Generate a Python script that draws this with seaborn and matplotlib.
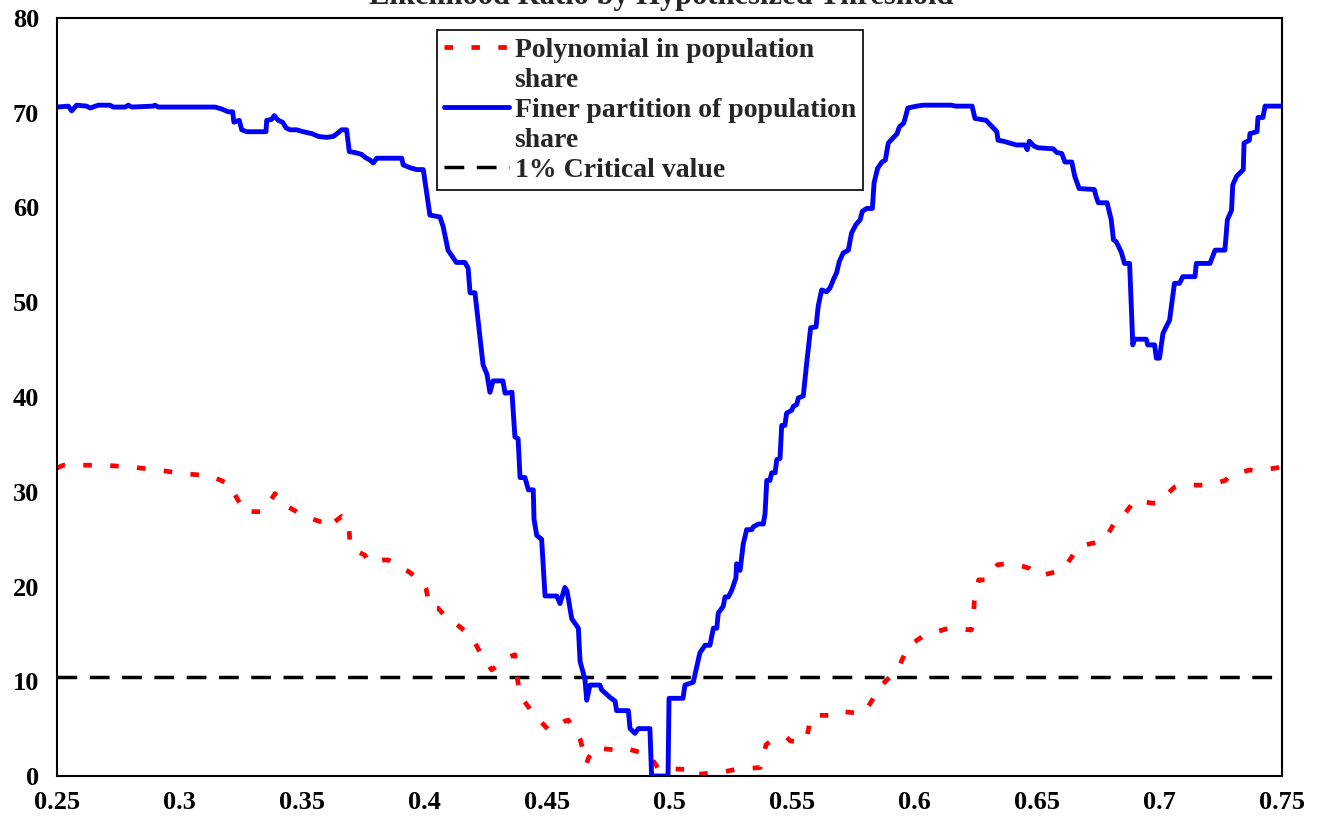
import matplotlib
matplotlib.use("Agg")
import matplotlib.pyplot as plt
import seaborn as sns
import pandas as pd
from matplotlib.lines import Line2D

# Limiar hipotetico (participacao populacional)
azul_x = [0.2500, 0.2546, 0.2560, 0.2580, 0.2621, 0.2635, 0.2669, 0.2716, 0.2730, 0.2778,
          0.2791, 0.2805, 0.2893, 0.2900, 0.2913, 0.3145, 0.3172, 0.3199, 0.3217, 0.3222,
          0.3244, 0.3254, 0.3274, 0.3353, 0.3356, 0.3376, 0.3387, 0.3403, 0.3421, 0.3435,
          0.3451, 0.3478, 0.3505, 0.3540, 0.3567, 0.3601, 0.3628, 0.3648, 0.3662, 0.3682,
          0.3693, 0.3716, 0.3744, 0.3757, 0.3778, 0.3791, 0.3805, 0.3907, 0.3913, 0.3941,
          0.3968, 0.3995, 0.4022, 0.4063, 0.4076, 0.4096, 0.4130, 0.4165, 0.4178, 0.4186,
          0.4206, 0.4239, 0.4255, 0.4267, 0.4280, 0.4320, 0.4329, 0.4357, 0.4369, 0.4382,
          0.4390, 0.4410, 0.4424, 0.4444, 0.4447, 0.4458, 0.4478, 0.4492, 0.4540, 0.4553,
          0.4573, 0.4582, 0.4601, 0.4628, 0.4635, 0.4655, 0.4662, 0.4676, 0.4716, 0.4723,
          0.4757, 0.4778, 0.4784, 0.4832, 0.4839, 0.4859, 0.4873, 0.4920, 0.4927, 0.4994,
          0.4998, 0.5055, 0.5063, 0.5097, 0.5124, 0.5145, 0.5165, 0.5179, 0.5193, 0.5199,
          0.5219, 0.5227, 0.5240, 0.5254, 0.5271, 0.5274, 0.5288, 0.5301, 0.5315, 0.5336,
          0.5342, 0.5363, 0.5383, 0.5390, 0.5397, 0.5410, 0.5417, 0.5431, 0.5438, 0.5451,
          0.5458, 0.5471, 0.5478, 0.5499, 0.5505, 0.5519, 0.5526, 0.5546, 0.5560, 0.5576,
          0.5598, 0.5607, 0.5621, 0.5641, 0.5655, 0.5669, 0.5682, 0.5693, 0.5709, 0.5730,
          0.5743, 0.5761, 0.5778, 0.5787, 0.5805, 0.5828, 0.5835, 0.5849, 0.5867, 0.5881,
          0.5893, 0.5911, 0.5929, 0.5938, 0.5956, 0.5973, 0.6009, 0.6035, 0.6150, 0.6168,
          0.6235, 0.6247, 0.6292, 0.6318, 0.6336, 0.6341, 0.6362, 0.6389, 0.6416, 0.6451,
          0.6460, 0.6469, 0.6487, 0.6504, 0.6566, 0.6581, 0.6601, 0.6614, 0.6642, 0.6654,
          0.6672, 0.6734, 0.6741, 0.6750, 0.6786, 0.6803, 0.6812, 0.6823, 0.6844, 0.6857,
          0.6878, 0.6891, 0.6898, 0.6946, 0.6952, 0.6980, 0.6987, 0.7000, 0.7014, 0.7027,
          0.7041, 0.7061, 0.7082, 0.7095, 0.7145, 0.7150, 0.7206, 0.7227, 0.7267, 0.7277,
          0.7294, 0.7299, 0.7315, 0.7342, 0.7345, 0.7367, 0.7369, 0.7398, 0.7402, 0.7422,
          0.7431, 0.7500]
azul_y = [70.6, 70.7, 70.2, 70.8, 70.7, 70.5, 70.8, 70.8, 70.6, 70.6,
          70.8, 70.6, 70.7, 70.8, 70.6, 70.6, 70.4, 70.1, 70.1, 69.0,
          69.2, 68.2, 68.0, 68.0, 69.2, 69.3, 69.7, 69.2, 69.0, 68.4,
          68.2, 68.2, 68.0, 67.8, 67.5, 67.4, 67.5, 67.9, 68.2, 68.2,
          65.9, 65.8, 65.6, 65.3, 65.0, 64.7, 65.2, 65.2, 64.5, 64.2,
          64.0, 64.0, 59.2, 59.0, 58.0, 55.5, 54.2, 54.2, 53.6, 51.0,
          51.0, 43.4, 42.4, 40.5, 41.7, 41.7, 40.4, 40.5, 35.8, 35.6,
          31.5, 31.5, 30.2, 30.2, 27.1, 25.4, 25.0, 19.0, 19.0, 18.2,
          19.9, 19.5, 16.6, 15.6, 12.1, 10.2, 8.0, 9.6, 9.6, 9.1,
          8.3, 7.9, 6.9, 6.9, 5.0, 4.5, 5.0, 5.0, 0.0, 0.0,
          8.2, 8.2, 9.6, 9.9, 13.0, 13.8, 13.8, 15.6, 15.6, 17.2,
          17.9, 18.9, 18.9, 19.6, 20.9, 22.4, 21.7, 24.5, 26.0, 26.0,
          26.3, 26.6, 26.6, 27.7, 31.2, 31.2, 32.0, 32.0, 33.4, 33.5,
          37.0, 37.0, 38.3, 38.6, 39.0, 39.2, 39.9, 40.1, 43.6, 47.3,
          47.4, 49.6, 51.3, 51.1, 51.5, 52.4, 53.1, 54.3, 55.2, 55.5,
          57.3, 58.2, 58.7, 59.6, 59.9, 59.9, 62.6, 64.1, 64.8, 65.0,
          66.8, 67.3, 67.8, 68.5, 68.9, 70.5, 70.7, 70.8, 70.8, 70.7,
          70.7, 69.4, 69.2, 68.5, 68.0, 67.1, 67.0, 66.8, 66.6, 66.6,
          66.1, 67.0, 66.5, 66.3, 66.2, 65.8, 65.7, 64.8, 64.8, 63.3,
          62.0, 61.9, 61.2, 60.5, 60.5, 58.7, 56.6, 56.4, 55.3, 54.1,
          54.1, 45.5, 46.1, 46.1, 45.5, 45.5, 44.1, 44.1, 46.7, 47.4,
          48.1, 52.0, 52.0, 52.7, 52.7, 54.1, 54.1, 55.5, 55.5, 58.7,
          59.7, 62.4, 63.3, 64.0, 66.8, 67.1, 67.8, 68.0, 69.5, 69.5,
          70.7, 70.7]

vermelho_x = [0.2500, 0.2526, 0.2594, 0.2696, 0.2805, 0.2913, 0.3016, 0.3124, 0.3213, 0.3220,
              0.3254, 0.3260, 0.3342, 0.3349, 0.3390, 0.3410, 0.3478, 0.3499, 0.3580, 0.3601,
              0.3662, 0.3689, 0.3696, 0.3703, 0.3757, 0.3771, 0.3832, 0.3852, 0.3913, 0.3934,
              0.3995, 0.4006, 0.4022, 0.4056, 0.4097, 0.4118, 0.4193, 0.4240, 0.4254, 0.4274,
              0.4349, 0.4369, 0.4376, 0.4390, 0.4438, 0.4451, 0.4505, 0.4519, 0.4573, 0.4587,
              0.4635, 0.4662, 0.4669, 0.4703, 0.4723, 0.4798, 0.4825, 0.4893, 0.4913, 0.4954,
              0.4974, 0.5063, 0.5077, 0.5166, 0.5193, 0.5271, 0.5371, 0.5394, 0.5409, 0.5478,
              0.5493, 0.5547, 0.5562, 0.5578, 0.5601, 0.5678, 0.5701, 0.5786, 0.5801, 0.5839,
              0.5847, 0.5909, 0.5931, 0.5962, 0.5970, 0.6031, 0.6062, 0.6139, 0.6170, 0.6231,
              0.6239, 0.6244, 0.6262, 0.6293, 0.6339, 0.6378, 0.6447, 0.6470, 0.6500, 0.6523,
              0.6600, 0.6623, 0.6662, 0.6677, 0.6754, 0.6777, 0.6816, 0.6839, 0.6885, 0.6900,
              0.6969, 0.6992, 0.7062, 0.7085, 0.7200, 0.7269, 0.7292, 0.7369, 0.7392, 0.7500]
vermelho_y = [32.5, 32.8, 32.8, 32.8, 32.6, 32.3, 31.9, 31.7, 30.7, 30.0,
              28.4, 27.9, 27.9, 28.2, 29.8, 28.9, 27.9, 27.5, 26.8, 26.2,
              27.4, 27.0, 24.7, 24.0, 23.3, 22.6, 22.8, 22.8, 21.9, 21.6,
              20.4, 19.8, 17.8, 17.7, 16.5, 16.3, 14.7, 12.4, 12.0, 11.2,
              12.6, 12.8, 10.8, 8.5, 6.8, 6.4, 4.9, 4.9, 5.8, 5.9,
              3.9, 1.3, 1.9, 3.1, 2.9, 2.7, 2.9, 2.4, 2.4, 0.8,
              0.8, 0.7, 0.1, 0.3, 0.3, 0.7, 0.9, 3.3, 3.6, 4.1,
              3.7, 3.6, 4.3, 6.3, 6.4, 6.4, 6.8, 6.6, 6.9, 8.5,
              9.1, 10.7, 11.2, 13.0, 13.6, 14.7, 15.0, 15.6, 15.6, 15.4,
              16.1, 18.4, 20.7, 20.7, 22.3, 22.4, 22.1, 21.9, 21.2, 21.2,
              21.7, 22.4, 23.9, 24.3, 24.7, 25.0, 26.7, 27.0, 28.6, 29.1,
              28.8, 28.8, 30.5, 30.7, 30.7, 31.2, 31.8, 32.3, 32.2, 32.6]

# Valor critico a 1%
critico_x = [0.25, 0.75]
critico_y = [10.5, 10.5]

rotulos = ["Polynomial in population", "share",
           "Finer partition of population", "share",
           "1% Critical value"]
titulo = "Likelihood Ratio by Hypothesized Threshold"

x_ticks = [0.25, 0.3, 0.35, 0.4, 0.45, 0.5, 0.55, 0.6, 0.65, 0.7, 0.75]
x_ticklabels = ["0.25", "0.3", "0.35", "0.4", "0.45", "0.5", "0.55", "0.6", "0.65", "0.7", "0.75"]
y_ticks = [0, 10, 20, 30, 40, 50, 60, 70, 80]

sns.set_style("white")
plt.rcParams["font.family"] = ["Liberation Serif", "DejaVu Serif"]
plt.rcParams["font.weight"] = "bold"

fig = plt.figure(figsize=(13.22, 8.31), dpi=100)
ax = fig.add_axes([57 / 1322, 1 - 776 / 831, 1225 / 1322, 758 / 831])

df_verm = pd.DataFrame({"x": vermelho_x, "y": vermelho_y})
df_azul = pd.DataFrame({"x": azul_x, "y": azul_y})
df_crit = pd.DataFrame({"x": critico_x, "y": critico_y})

estilo_verm = (0, (1.8, 3.9))
estilo_crit = (0, (5.7, 3.6))

sns.lineplot(data=df_crit, x="x", y="y", ax=ax, color="black", linewidth=2.5,
             linestyle=estilo_crit, estimator=None, sort=False)
sns.lineplot(data=df_verm, x="x", y="y", ax=ax, color="#FF0000", linewidth=3.4,
             linestyle=estilo_verm, estimator=None, sort=False)
sns.lineplot(data=df_azul, x="x", y="y", ax=ax, color="#0000FF", linewidth=3.5,
             estimator=None, sort=False)

ax.set_xlim(0.25, 0.75)
ax.set_ylim(0, 80)
ax.set_xticks(x_ticks)
ax.set_xticklabels(x_ticklabels)
ax.set_yticks(y_ticks)
ax.set_xlabel("")
ax.set_ylabel("")
ax.tick_params(axis="x", direction="out", length=6, width=1.3, pad=5, labelsize=19, colors="black")
ax.tick_params(axis="y", direction="out", length=4, width=1.3, pad=9, labelsize=19, colors="black")
for lado in ["left", "right", "top", "bottom"]:
    ax.spines[lado].set_visible(True)
    ax.spines[lado].set_color("black")
    ax.spines[lado].set_linewidth(1.5)

# Legenda com as quebras de linha como linhas proprias
manipuladores = [
    Line2D([], [], color="#FF0000", linewidth=3.4, linestyle=estilo_verm),
    Line2D([], [], color="none"),
    Line2D([], [], color="#0000FF", linewidth=3.5),
    Line2D([], [], color="none"),
    Line2D([], [], color="black", linewidth=2.5, linestyle=estilo_crit),
]
leg = ax.legend(manipuladores, rotulos, loc="upper left", bbox_to_anchor=(0.310, 0.984),
                fontsize=20, frameon=True, fancybox=False, shadow=False, framealpha=1,
                edgecolor="black", labelspacing=0.17, handlelength=2.35, handletextpad=0.2,
                borderpad=0.25, borderaxespad=0)
leg.get_frame().set_linewidth(1.2)

# Titulo cortado no topo, como no original
fig.text(0.5, 1 - 4 / 831, titulo, ha="center", va="baseline", fontsize=22, fontweight="bold")

fig.savefig("out.png", dpi=100)
plt.close(fig)
